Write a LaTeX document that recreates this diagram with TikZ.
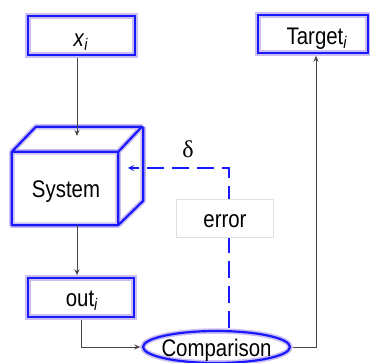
\documentclass[tikz,border=0pt]{standalone}
\usepackage{fontspec}
\setmainfont{Liberation Sans}[FakeStretch=0.85]
\newfontfamily\greekfont{Liberation Serif}
\usetikzlibrary{shapes.geometric,arrows.meta}
\definecolor{halo}{RGB}{205,190,242}
\definecolor{edgeblue}{RGB}{25,25,255}
\definecolor{wire}{RGB}{70,70,70}
\tikzset{
  x=1pt, y=-1pt,
  every node/.style={font=\fontsize{24}{28}\selectfont, inner sep=0pt},
  glow/.style={draw=halo, line width=5.5pt, fill=white,
    postaction={draw=edgeblue, line width=2.2pt}},
  glowbox/.style={glow, rectangle, minimum width=#1, minimum height=39pt},
  flow/.style={draw=wire, line width=0.7pt, -{Stealth[length=6pt,width=5pt]}},
  feedback/.style={draw=edgeblue, line width=2pt, dash pattern=on 17pt off 8pt,
    -{Stealth[length=6pt,width=6pt,inset=3pt]}},
  labelbox/.style={draw=gray!25, line width=0.7pt, fill=white,
    minimum width=97pt, minimum height=38pt},
  txt/.style={anchor=base}
}
\begin{document}
\begin{tikzpicture}
\useasboundingbox (0,0) rectangle (370,363);

% input and target boxes
\node[glowbox=107pt] (xi) at (81.5,35.5) {};
\node[txt] (xitext) at (81,47) {\textit{x}\textsubscript{\textit{i}}};
\node[glowbox=110pt, minimum height=38pt] (tgt) at (313,34) {};
\node[txt] (tgttext) at (317,45) {Target\textsubscript{\textit{i}}};

% the system as a cuboid
\node[rectangle, minimum width=106pt, minimum height=73pt] (sys) at (65,188.5) {};
\path[glow, line join=round]
  (sys.south west) rectangle (sys.north east)
  (sys.north west) -- ++(24,-25) -- ++(106,0) -- (sys.north east)
  (sys.north east) ++(25,-25) -- ++(0,74) -- (sys.south east);
\node[txt] (systext) at (66,198) {System};

% output box and comparison
\node[glowbox=106pt] (out) at (81,297.5) {};
\node[txt] (outtext) at (82,307) {out\textsubscript{\textit{i}}};
\node[ellipse, glow, minimum width=147pt, minimum height=32pt] (cmp) at (216.5,347) {};
\node[txt] (cmptext) at (216.5,357) {Comparison};

% connection points
\coordinate (sysin) at (77,136);
\coordinate (fbturn) at (229,168);
\coordinate (fbend) at (128,168);

% signal flow
\draw[flow] (xi.south -| sysin) -- (sysin);
\draw[flow] (sys.south -| sysin) -- (out.north -| sysin);
\draw[flow] (out.south) |- (cmp.west);
\draw[flow] (cmp.east) -| ([xshift=3pt]tgt.south);

% error feedback
\draw[feedback] (cmp.north -| fbturn) -- (fbturn) -- (fbend);
\node[labelbox] (err) at (224.5,218) {};
\node[txt] (errtext) at (225,228) {error};
\node[txt] (delta) at (188,158) {\greekfont δ};
\end{tikzpicture}
\end{document}
